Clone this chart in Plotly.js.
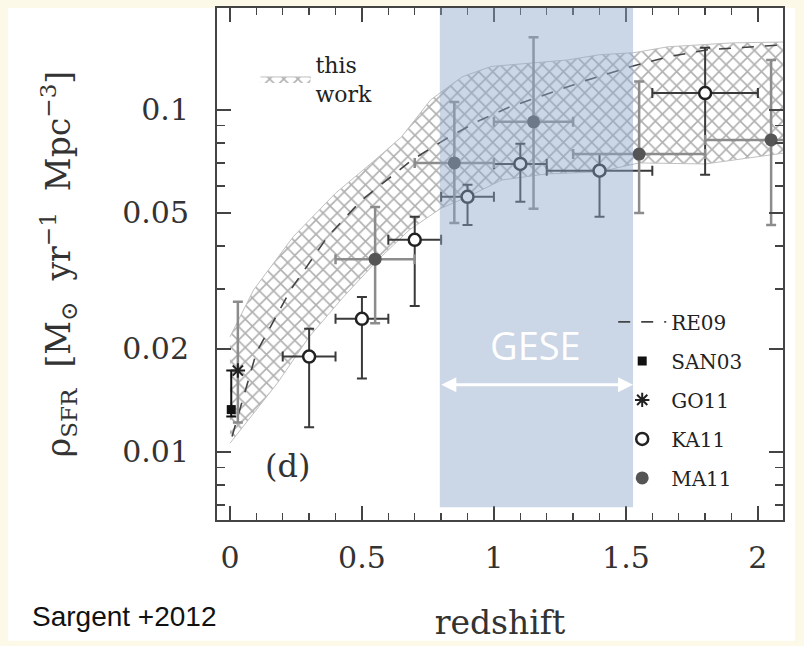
<!DOCTYPE html>
<html>
<head>
<meta charset="utf-8">
<script src="https://cdn.plot.ly/plotly-3.0.1.min.js"></script>
<style>html,body{margin:0;padding:0;background:#FDF9E8;}#chart{width:804px;height:646px;}</style>
</head>
<body>
<div id="chart"></div>
<script>
// ---- data ----
// "this work" band edges (redshift, rho_SFR)
var bandUpperZ = [0.00, 0.09, 0.24, 0.40, 0.55, 0.65, 0.76, 0.88, 0.99, 1.15, 1.28, 1.40, 1.53, 1.66, 1.90, 2.10];
var bandUpper  = [0.0217, 0.0298, 0.0426, 0.0571, 0.0714, 0.0834, 0.107, 0.125, 0.134, 0.137, 0.140, 0.145, 0.147, 0.153, 0.157, 0.158];
var bandLowerZ = [0.00, 0.18, 0.30, 0.43, 0.56, 0.68, 0.80, 0.90, 1.03, 1.20, 1.40, 1.55, 1.80, 2.10];
var bandLower  = [0.0106, 0.0159, 0.0217, 0.0284, 0.0364, 0.0446, 0.0516, 0.0557, 0.0624, 0.065, 0.0659, 0.070, 0.0695, 0.0748];

// RE09 dashed curve
var re09Z = [0.008, 0.10, 0.23, 0.37, 0.50, 0.58, 0.69, 0.83, 0.95, 1.06, 1.17, 1.35, 1.52, 1.66, 1.81, 1.97, 2.10];
var re09  = [0.0111, 0.0195, 0.0298, 0.0426, 0.0546, 0.0612, 0.0714, 0.0834, 0.0935, 0.102, 0.109, 0.122, 0.134, 0.143, 0.150, 0.153, 0.155];

// KA11 (open circles)
var kaZ    = [0.3, 0.5, 0.7, 0.9, 1.1, 1.4, 1.8];
var kaZlo  = [0.2, 0.4, 0.6, 0.8, 1.0, 1.2, 1.6];
var kaZhi  = [0.4, 0.6, 0.8, 1.0, 1.2, 1.6, 2.0];
var kaRho  = [0.0190, 0.0245, 0.0417, 0.0557, 0.0695, 0.0664, 0.112];
var kaHi   = [0.0229, 0.0284, 0.0487, 0.0604, 0.0796, 0.0743, 0.152];
var kaLo   = [0.0118, 0.0164, 0.0267, 0.0461, 0.0539, 0.0487, 0.0646];

// MA11 (filled circles)
var maZ    = [0.55, 0.85, 1.15, 1.55, 2.05];
var maZlo  = [0.40, 0.70, 1.00, 1.30, 1.80];
var maZhi  = [0.70, 1.00, 1.30, 1.80, 2.30];
var maRho  = [0.0366, 0.070, 0.0923, 0.0743, 0.0817];
var maHi   = [0.052, 0.1055, 0.163, 0.121, 0.140];
var maLo   = [0.0238, 0.0467, 0.0514, 0.050, 0.0461];

// SAN03 (filled square) and GO11 (asterisk)
var sanZ = [0.005], sanRho = [0.0133], sanHi = [0.0173], sanLo = [0.0127];
var goZ  = [0.03],  goRho  = [0.0173], goHi  = [0.0275], goLo  = [0.0122];

// GESE redshift window
var geseZ = [0.795, 1.527];

// tick labels
var xTickVals = [0, 0.5, 1, 1.5, 2];
var xTickText = ['0', '0.5', '1', '1.5', '2'];
var xMinorVals = [0.1,0.2,0.3,0.4,0.6,0.7,0.8,0.9,1.1,1.2,1.3,1.4,1.6,1.7,1.8,1.9,2.1];
var yTickVals = [0.01, 0.02, 0.05, 0.1];
var yTickText = ['0.01', '0.02', '0.05', '0.1'];
var yMinorVals = [0.007,0.008,0.009,0.03,0.04,0.06,0.07,0.08,0.09];

// ---- helpers ----
function diff(a, b) { return a.map(function (v, i) { return v - b[i]; }); }
var SERIF = 'DejaVu Serif, serif';
var INK = '#333333';

var traces = [];

// band polygon
traces.push({
  x: bandUpperZ.concat(bandLowerZ.slice().reverse()),
  y: bandUpper.concat(bandLower.slice().reverse()),
  type: 'scatter', mode: 'lines', fill: 'toself',
  line: {color: '#c0c0c0', width: 1},
  fillcolor: 'rgba(255,255,255,0)',
  fillpattern: {shape: 'x', size: 10, solidity: 0.3, fgcolor: '#b0b0b0', bgcolor: 'rgba(255,255,255,0)'},
  name: 'this<br>work', legend: 'legend2', hoverinfo: 'skip'
});

// RE09
traces.push({
  x: re09Z, y: re09, type: 'scatter', mode: 'lines',
  line: {color: '#444', width: 1.6, dash: '12px,11px'},
  name: 'RE09', legendgroup: 'g1'
});

// SAN03
traces.push({
  x: sanZ, y: sanRho, type: 'scatter', mode: 'markers',
  marker: {symbol: 'square', size: 9, color: '#111'},
  error_y: {type: 'data', symmetric: false, array: diff(sanHi, sanRho), arrayminus: diff(sanRho, sanLo), color: '#111', thickness: 2, width: 5},
  name: 'SAN03', legendgroup: 'g2'
});

// GO11
traces.push({
  x: goZ, y: goRho, type: 'scatter', mode: 'markers',
  marker: {symbol: 'asterisk-open', size: 12, color: '#222', line: {color: '#222', width: 2}},
  error_y: {type: 'data', symmetric: false, array: diff(goHi, goRho), arrayminus: diff(goRho, goLo), color: '#8c8c8c', thickness: 2.5, width: 5},
  name: 'GO11', legendgroup: 'g3'
});

// KA11
traces.push({
  x: kaZ, y: kaRho, type: 'scatter', mode: 'markers',
  marker: {symbol: 'circle', size: 12, color: '#ffffff', line: {color: '#222', width: 2.5}},
  error_y: {type: 'data', symmetric: false, array: diff(kaHi, kaRho), arrayminus: diff(kaRho, kaLo), color: '#3a3a3a', thickness: 2, width: 5},
  error_x: {type: 'data', symmetric: false, array: diff(kaZhi, kaZ), arrayminus: diff(kaZ, kaZlo), color: '#3a3a3a', thickness: 2, width: 5},
  name: 'KA11', legendgroup: 'g4'
});

// MA11
traces.push({
  x: maZ, y: maRho, type: 'scatter', mode: 'markers',
  marker: {symbol: 'circle', size: 13, color: '#555555'},
  error_y: {type: 'data', symmetric: false, array: diff(maHi, maRho), arrayminus: diff(maRho, maLo), color: '#8c8c8c', thickness: 2.5, width: 5},
  error_x: {type: 'data', symmetric: false, array: diff(maZhi, maZ), arrayminus: diff(maZ, maZlo), color: '#8c8c8c', thickness: 2.5, width: 5},
  name: 'MA11', legendgroup: 'g5'
});

var axisCommon = {
  showline: true, linecolor: '#444', linewidth: 2, mirror: 'ticks',
  ticks: 'inside', tickcolor: '#444', tickwidth: 1.8,
  showgrid: false, zeroline: false,
  tickfont: {family: SERIF, size: 30, color: INK}
};

var layout = {
  width: 804, height: 646, autosize: false,
  margin: {l: 217, r: 21, t: 8, b: 126, pad: 0},
  paper_bgcolor: '#FDF9E8', plot_bgcolor: '#ffffff',
  showlegend: true,
  xaxis: Object.assign({}, axisCommon, {
    range: [-0.049, 2.095],
    tickmode: 'array', tickvals: xTickVals, ticktext: xTickText, ticklen: 14,
    ticklabelstandoff: 10,
    minor: {tickmode: 'array', tickvals: xMinorVals, ticks: 'inside', ticklen: 7, tickwidth: 1.5, tickcolor: '#444', showgrid: false},
    title: {text: 'redshift', font: {family: SERIF, size: 33, color: INK}, standoff: 37}
  }),
  yaxis: Object.assign({}, axisCommon, {
    type: 'log', range: [-2.199, -0.702],
    tickmode: 'array', tickvals: yTickVals, ticktext: yTickText, ticklen: 14,
    ticklabelstandoff: 20,
    minor: {tickmode: 'array', tickvals: yMinorVals, ticks: 'inside', ticklen: 8, tickwidth: 1.5, tickcolor: '#444', showgrid: false},
    title: {text: 'ρ<sub>SFR</sub>  [M<sub>⊙</sub>  yr<sup>−1</sup>  Mpc<sup>−3</sup>]', font: {family: SERIF, size: 33, color: INK}, standoff: 42}
  }),
  legend: {
    x: 0.70, xanchor: 'left', y: 0.425, yanchor: 'top',
    bgcolor: 'rgba(0,0,0,0)', borderwidth: 0,
    font: {family: SERIF, size: 20, color: '#222'},
    traceorder: 'grouped', tracegroupgap: 10, itemwidth: 48
  },
  legend2: {
    x: 0.068, xanchor: 'left', y: 0.93, yanchor: 'top',
    bgcolor: 'rgba(0,0,0,0)', borderwidth: 0,
    font: {family: SERIF, size: 22, color: '#222'},
    itemwidth: 50
  },
  shapes: [
    // white panel behind the figure
    {type: 'rect', xref: 'paper', yref: 'paper', x0: -0.369, x1: 1.021, y0: -0.236, y1: 1.0,
     fillcolor: '#ffffff', line: {width: 0}, layer: 'below'},
    // GESE window
    {type: 'rect', xref: 'x', yref: 'paper', x0: geseZ[0], x1: geseZ[1], y0: 0.025, y1: 1.0,
     fillcolor: 'rgba(140,165,200,0.45)', line: {width: 0}, layer: 'above'}
  ],
  annotations: [
    {text: 'GESE', xref: 'paper', yref: 'paper', x: 0.562, y: 0.342, xanchor: 'center', yanchor: 'middle', showarrow: false,
     font: {family: 'Open Sans, sans-serif', size: 38, color: '#ffffff'}},
    {text: '', xref: 'x', yref: 'paper', x: geseZ[1], y: 0.264, axref: 'x', ayref: 'pixel',
     ax: geseZ[0], ay: 0, showarrow: true, arrowside: 'end+start', arrowhead: 2, arrowsize: 1,
     arrowwidth: 3, arrowcolor: '#ffffff', standoff: 0, startstandoff: 0},
    {text: '(d)', xref: 'paper', yref: 'paper', x: 0.125, y: 0.105, xanchor: 'center', yanchor: 'middle', showarrow: false,
     font: {family: SERIF, size: 32, color: INK}},
    {text: 'Sargent +2012', xref: 'paper', yref: 'paper', x: -0.330, y: -0.189, xanchor: 'left', yanchor: 'middle',
     showarrow: false, font: {family: 'Liberation Sans, Arial, sans-serif', size: 28, color: '#111'}}
  ]
};

Plotly.newPlot('chart', traces, layout, {displayModeBar: false, staticPlot: true});
</script>
</body>
</html>
